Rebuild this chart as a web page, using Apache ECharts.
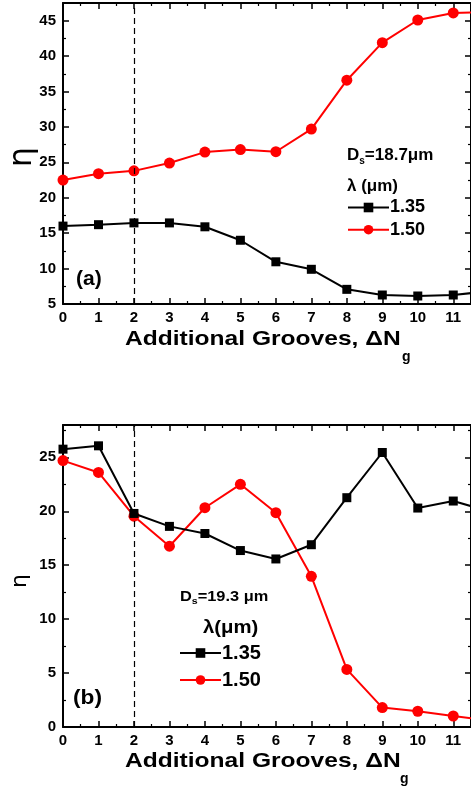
<!DOCTYPE html>
<html>
<head>
<meta charset="utf-8">
<script src="https://cdn.jsdelivr.net/npm/echarts@6/dist/echarts.min.js"></script>
<style>
  html, body { margin: 0; padding: 0; background: #fff; }
  #chart { width: 471px; height: 793px; }
</style>
</head>
<body>
<div id="chart"></div>
<script>
// extra grooves, 0..12 (12 lies just past the clipped right edge)
const grooves = [0, 1, 2, 3, 4, 5, 6, 7, 8, 9, 10, 11, 12];

// panel (a), Ds = 18.7 um
const etaA135 = [16.0, 16.2, 16.45, 16.45, 15.9, 14.0, 10.96, 9.9, 7.07, 6.27, 6.13, 6.27, 6.8];
const etaA150 = [22.5, 23.4, 23.8, 24.9, 26.45, 26.8, 26.5, 29.7, 36.6, 41.9, 45.1, 46.1, 46.2];

// panel (b), Ds = 19.3 um
const etaB135 = [25.76, 26.07, 19.8, 18.6, 17.94, 16.36, 15.58, 16.9, 21.26, 25.45, 20.3, 20.95, 20.0];
const etaB150 = [24.7, 23.6, 19.55, 16.76, 20.33, 22.5, 19.87, 13.97, 5.34, 1.8, 1.46, 1.02, 0.6];

const legendNames = ['1.35', '1.50'];
const dashedAt = 2;

const FONT = 'Liberation Sans, Arial, sans-serif';
const pairs = (ys) => grooves.map((x, i) => [x, ys[i]]);

const chart = echarts.init(document.getElementById('chart'));

const tickStyle = {
  axisLine: { show: true, onZero: false, lineStyle: { color: '#000', width: 2 } },
  axisTick: { show: true, inside: true, length: 6, lineStyle: { color: '#000', width: 1.5 } },
  minorTick: { show: true, splitNumber: 2, length: 3, lineStyle: { color: '#000', width: 1.2 } },
  splitLine: { show: false },
};

const labelStyle = { color: '#000', fontFamily: FONT, fontWeight: 'bold', fontSize: 15, showMaxLabel: false };

const xAxisPair = (gridIndex) => [
  {
    ...tickStyle,
    gridIndex, type: 'value', min: 0, max: 11.5, interval: 1, position: 'bottom',
    axisLabel: { ...labelStyle, margin: 6 },
  },
  {
    ...tickStyle,
    gridIndex, type: 'value', min: 0, max: 11.5, interval: 1, position: 'top',
    axisLabel: { show: false },
  },
];

const yAxisPair = (gridIndex, min, max) => [
  {
    ...tickStyle,
    gridIndex, type: 'value', min, max, interval: 5, position: 'left',
    axisLabel: { ...labelStyle, margin: 7 },
  },
  {
    ...tickStyle,
    gridIndex, type: 'value', min, max, interval: 5, position: 'right',
    axisLabel: { show: false },
  },
];

const lineSeries = (name, data, axisIdx, color, symbol, size) => ({
  name,
  type: 'line',
  xAxisIndex: axisIdx,
  yAxisIndex: axisIdx,
  data: pairs(data),
  symbol,
  symbolSize: size,
  showAllSymbol: true,
  clip: true,
  lineStyle: { color, width: 2 },
  itemStyle: { color },
  z: symbol === 'circle' ? 3 : 4,
});

const dashed = {
  silent: true,
  symbol: 'none',
  label: { show: false },
  lineStyle: { color: '#000', type: [6, 4], width: 1.2 },
  data: [{ xAxis: dashedAt }],
};

const txt = (x, y, text, size, scaleX = 1) => ({
  type: 'text', x, y, scaleX,
  style: {
    text, fill: '#000', fontFamily: FONT, fontWeight: 'bold', fontSize: size,
    textVerticalAlign: 'middle',
  },
});

// "D" + subscript s + rest, kept in one text so widths line up
const richTxt = (x, y, text, size, subSize, subDrop, scaleX = 1) => ({
  type: 'text', x, y, scaleX,
  style: {
    text, fill: '#000', textVerticalAlign: 'middle',
    rich: {
      m: { fontFamily: FONT, fontWeight: 'bold', fontSize: size, fill: '#000' },
      s: { fontFamily: FONT, fontWeight: 'bold', fontSize: subSize, fill: '#000', padding: [subDrop * 2, 0, 0, 0] },
    },
  },
});

const eta = (x, y, size) => ({
  type: 'text', x, y, rotation: Math.PI / 2,
  style: {
    text: '\u03b7', fill: '#000', fontFamily: 'DejaVu Sans, sans-serif', fontSize: size,
    textAlign: 'center', textVerticalAlign: 'middle',
  },
});

const legendBase = {
  orient: 'vertical',
  padding: 0,
  itemWidth: 41,
  itemHeight: 12,
  selectedMode: false,
  data: legendNames,
};

const title = 'Additional Grooves, \u0394N';

chart.setOption({
  animation: false,
  backgroundColor: '#fff',
  grid: [
    { left: 63, right: -4, top: 3, height: 301 },
    { left: 63, right: -4, top: 425, height: 302 },
  ],
  xAxis: [...xAxisPair(0), ...xAxisPair(1)],
  yAxis: [...yAxisPair(0, 5, 47.5), ...yAxisPair(1, 0, 28)],
  legend: [
    { ...legendBase, left: 347, top: 198.5, itemGap: 4.2,
      textStyle: { color: '#000', fontFamily: FONT, fontWeight: 'bold', fontSize: 18, padding: [0, 0, 0, -4] } },
    { ...legendBase, left: 179, top: 643, itemGap: 7,
      textStyle: { color: '#000', fontFamily: FONT, fontWeight: 'bold', fontSize: 20, padding: [0, 0, 0, -4] } },
  ],
  series: [
    { ...lineSeries('1.35', etaA135, 0, '#000', 'rect', 9), markLine: dashed },
    lineSeries('1.50', etaA150, 0, '#ff0000', 'circle', 11),
    { ...lineSeries('1.35', etaB135, 2, '#000', 'rect', 9), markLine: dashed },
    lineSeries('1.50', etaB150, 2, '#ff0000', 'circle', 11),
  ],
  graphic: [
    eta(23, 157, 32),
    eta(20, 581, 22),
    txt(125, 339, title, 21, 1.17),
    txt(402, 357, 'g', 14),
    txt(125, 761, title, 21, 1.17),
    txt(400, 779, 'g', 14),
    txt(76, 279, '(a)', 21),
    txt(73, 698, '(b)', 21, 1.08),
    richTxt(347, 155, '{m|D}{s|s}{m|=18.7\u03bcm}', 17, 10, 6),
    txt(347, 186, '\u03bb (\u03bcm)', 17),
    richTxt(180, 597, '{m|D}{s|s}{m|=19.3 \u03bcm}', 14, 9, 5, 1.17),
    txt(203, 628, '\u03bb(\u03bcm)', 19, 1.07),
  ],
});
</script>
</body>
</html>
